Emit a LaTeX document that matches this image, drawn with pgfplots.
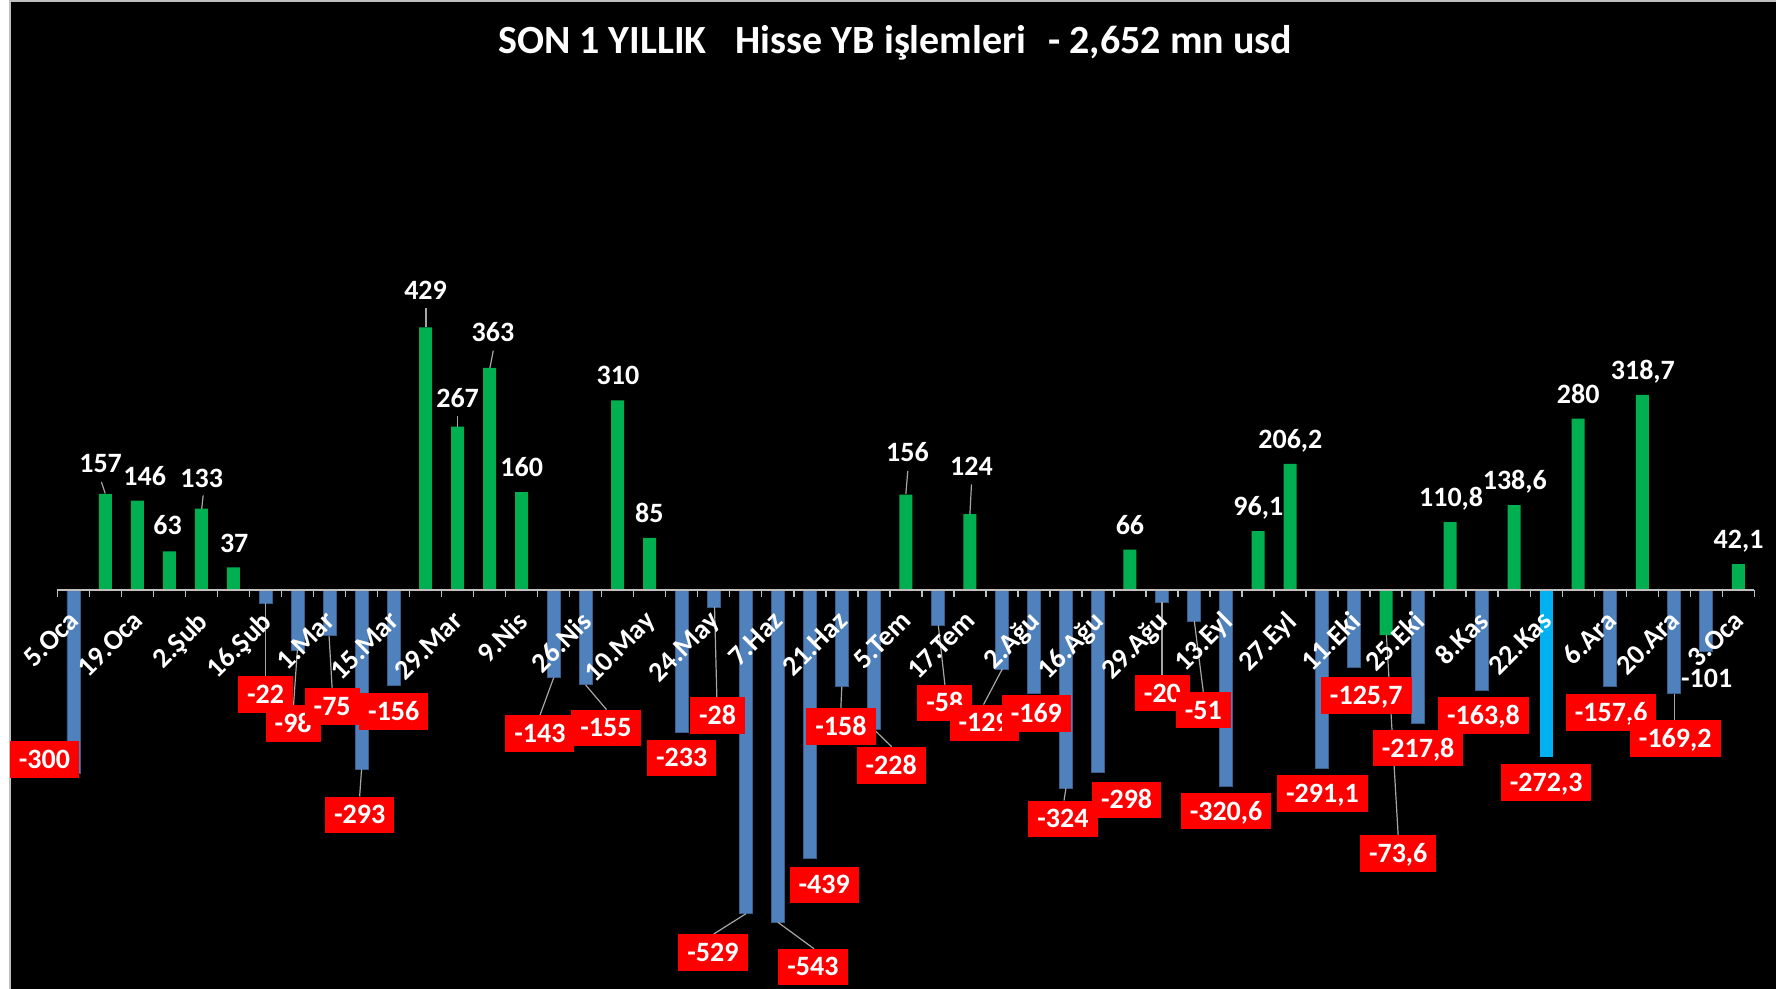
\documentclass[border=0pt]{standalone}
\usepackage{fontspec}
\setmainfont{Carlito}
\usepackage{pgfplots}
\pgfplotsset{compat=1.18}
\definecolor{exblue}{HTML}{4F81BD}
\definecolor{exedge}{HTML}{3A5F8B}
\definecolor{exgreen}{HTML}{00B050}
\definecolor{excyan}{HTML}{00B0F0}
\definecolor{axgray}{HTML}{BFBFBF}
\definecolor{leadgray}{HTML}{A6A6A6}
\begin{document}
\begin{tikzpicture}[
  pl/.style={text=white, font=\bfseries\fontsize{14}{14}\selectfont, inner sep=0pt, text height=8.9pt, text depth=0pt},
  nl/.style={fill=red, text=white, font=\bfseries\fontsize{14}{14}\selectfont, inner xsep=4.5pt, inner ysep=0pt, minimum height=18.3pt, text height=8.9pt, text depth=0pt},
  ld/.style={draw=leadgray, line width=0.6pt}]
\fill[white] (0,0) rectangle (888pt,494.5pt);
\fill[black] (5pt,0) rectangle (888pt,494pt);
\draw[gray!50, line width=0.6pt] (5pt,0) -- (5pt,494pt) -- (888pt,494pt);
\node[text=white, font=\bfseries\fontsize{20}{20}\selectfont, inner sep=0pt] at (447.5pt,473pt) {SON 1 YILLIK\hspace{0.5em} Hisse YB işlemleri\hspace{0.32em} - 2,652 mn usd};
\begin{axis}[
  at={(28.7pt,0pt)}, anchor=south west,
  scale only axis, width=848.45pt, height=494.5pt,
  xmin=0.5, xmax=53.5, ymin=-651.96, ymax=964.05,
  axis x line=middle, axis y line=none,
  axis on top,
  axis line style={-, draw=axgray, line width=0.7pt},
  hide obscured x ticks=false,
  xtick={1,3,...,53},
  xticklabels={5.Oca,19.Oca,2.Şub,16.Şub,1.Mar,15.Mar,29.Mar,9.Nis,26.Nis,10.May,24.May,7.Haz,21.Haz,5.Tem,17.Tem,2.Ağu,16.Ağu,29.Ağu,13.Eyl,27.Eyl,11.Eki,25.Eki,8.Kas,22.Kas,6.Ara,20.Ara,3.Oca},
  minor xtick={0.5,1.5,...,53.5},
  major tick length=0pt, minor tick length=3.5pt,
  xtick align=outside,
  xtick style={draw=axgray, line width=0.7pt},
  xticklabel style={rotate=45, anchor=north east, text=white, font=\bfseries\fontsize{14}{14}\selectfont, inner sep=0pt, xshift=-8.8pt, yshift=-4.6pt},
  clip=false,
]
\addplot[ybar, bar width=6.5pt, bar shift=0pt, fill=exblue, draw=exedge, line width=0.4pt] coordinates {
(1,-300) (7,-22) (8,-98) (9,-75) (10,-293) (11,-156) (16,-143) (17,-155) (20,-233) (21,-28) (22,-529) (23,-543) (24,-439) (25,-158) (26,-228) (28,-58) (30,-129) (31,-169) (32,-324) (33,-298) (35,-20) (36,-51) (37,-320.6) (40,-291.1) (41,-125.7) (43,-217.8) (45,-163.8) (49,-157.6) (51,-169.2) (52,-101)};
\addplot[ybar, bar width=6.5pt, bar shift=0pt, fill=exgreen, draw=none] coordinates {
(2,157) (3,146) (4,63) (5,133) (6,37) (12,429) (13,267) (14,363) (15,160) (18,310) (19,85) (27,156) (29,124) (34,66) (38,96.1) (39,206.2) (42,-73.6) (44,110.8) (46,138.6) (48,280) (50,318.7) (53,42.1)};
\addplot[ybar, bar width=6.5pt, bar shift=0pt, fill=excyan, draw=none] coordinates {(47,-272.3)};
% leader lines
\draw[ld] (1.993,157.8)--(1.874,176.5);
\draw[ld] (5.007,132.7)--(5.053,154.6);
\draw[ld] (12.01,429)--(12.01,461.1);
\draw[ld] (13.0,266.5)--(13.0,284.3);
\draw[ld] (14.007,362.3)--(14.113,391);
\draw[ld] (27.0,156.7)--(27.06,194.4);
\draw[ld] (29.0,123.7)--(29.05,172.4);
\draw[ld] (7,-22)--(7,-140.5);
\draw[ld] (7.995,-98)--(7.874,-189.2);
\draw[ld] (8.985,-75)--(9.082,-161.1);
\draw[ld] (10.0,-293)--(9.94,-337.4);
\draw[ld] (16.003,-143)--(15.57,-204.9);
\draw[ld] (16.996,-155)--(17.65,-195.4);
\draw[ld] (21.025,-28)--(21.097,-175.5);
\draw[ld] (22.005,-529)--(21.0,-562.1);
\draw[ld] (23.005,-543)--(24.129,-586.1);
\draw[ld] (25.0,-158)--(24.97,-192.8);
\draw[ld] (26.006,-228)--(26.555,-256);
\draw[ld] (28.014,-58)--(28.22,-154.9);
\draw[ld] (30.012,-129)--(29.425,-187.3);
\draw[ld] (32.0,-324)--(31.94,-344);
\draw[ld] (35,-20)--(35,-138.9);
\draw[ld] (36.01,-51)--(36.29,-166.3);
\draw[ld] (42.01,-73.6)--(42.377,-401);
\draw[ld] (51,-169.2)--(51,-212.4);
% positive labels
\node[pl] at (1.849,205.9) {157};
\node[pl] at (3.226,184.6) {146};
\node[pl] at (3.942,105.9) {63};
\node[pl] at (5.007,182.8) {133};
\node[pl] at (6.022,76.5) {37};
\node[pl] at (11.999,489.2) {429};
\node[pl] at (13.0,312.9) {267};
\node[pl] at (14.104,420.4) {363};
\node[pl] at (15.0,199.7) {160};
\node[pl] at (18.01,350.5) {310};
\node[pl] at (18.99,124.3) {85};
\node[pl] at (27.05,224) {156};
\node[pl] at (29.05,201.3) {124};
\node[pl] at (34.0,105.1) {66};
\node[pl] at (38.01,136) {96,1};
\node[pl] at (39.01,245.1) {206,2};
\node[pl] at (44.03,150.5) {110,8};
\node[pl] at (46.02,178.6) {138,6};
\node[pl] at (48.0,318.6) {280};
\node[pl] at (50.02,357.8) {318,7};
\node[pl] at (53.01,81.7) {42,1};
\node[pl] at (52.01,-145.4) {-101};
% negative labels
\node[nl] at (0.094,-276.8) {-300};
\node[nl] at (7.002,-170.6) {-22};
\node[nl] at (7.864,-218.6) {-98};
\node[nl] at (9.082,-190.5) {-75};
\node[nl] at (9.941,-367.6) {-293};
\node[nl] at (11.006,-198.7) {-156};
\node[nl] at (15.57,-234.3) {-143};
\node[nl] at (17.633,-225.5) {-155};
\node[nl] at (19.999,-274.2) {-233};
\node[nl] at (21.118,-205.4) {-28};
\node[nl] at (20.975,-592) {-529};
\node[nl] at (24.098,-616) {-543};
\node[nl] at (24.447,-481.9) {-439};
\node[nl] at (24.972,-223) {-158};
\node[nl] at (26.54,-286.3) {-228};
\node[nl] at (28.214,-184.8) {-58};
\node[nl] at (29.444,-217.2) {-129};
\node[nl] at (31.075,-202.3) {-169};
\node[nl] at (31.906,-373.9) {-324};
\node[nl] at (33.894,-343.1) {-298};
\node[nl] at (35.013,-168.6) {-20};
\node[nl] at (36.29,-196.4) {-51};
\node[nl] at (37.0,-361.3) {-320,6};
\node[nl] at (40.01,-332.4) {-291,1};
\node[nl] at (41.38,-172.2) {-125,7};
\node[nl] at (42.377,-430.4) {-73,6};
\node[nl] at (43.0,-258.5) {-217,8};
\node[nl] at (45.04,-205) {-163,8};
\node[nl] at (47.0,-314.4) {-272,3};
\node[nl] at (49.03,-200.2) {-157,6};
\node[nl] at (51.03,-242.5) {-169,2};
\end{axis}
\pgfresetboundingbox
\path (0,0) rectangle (888pt,494.5pt);
\end{tikzpicture}
\end{document}
